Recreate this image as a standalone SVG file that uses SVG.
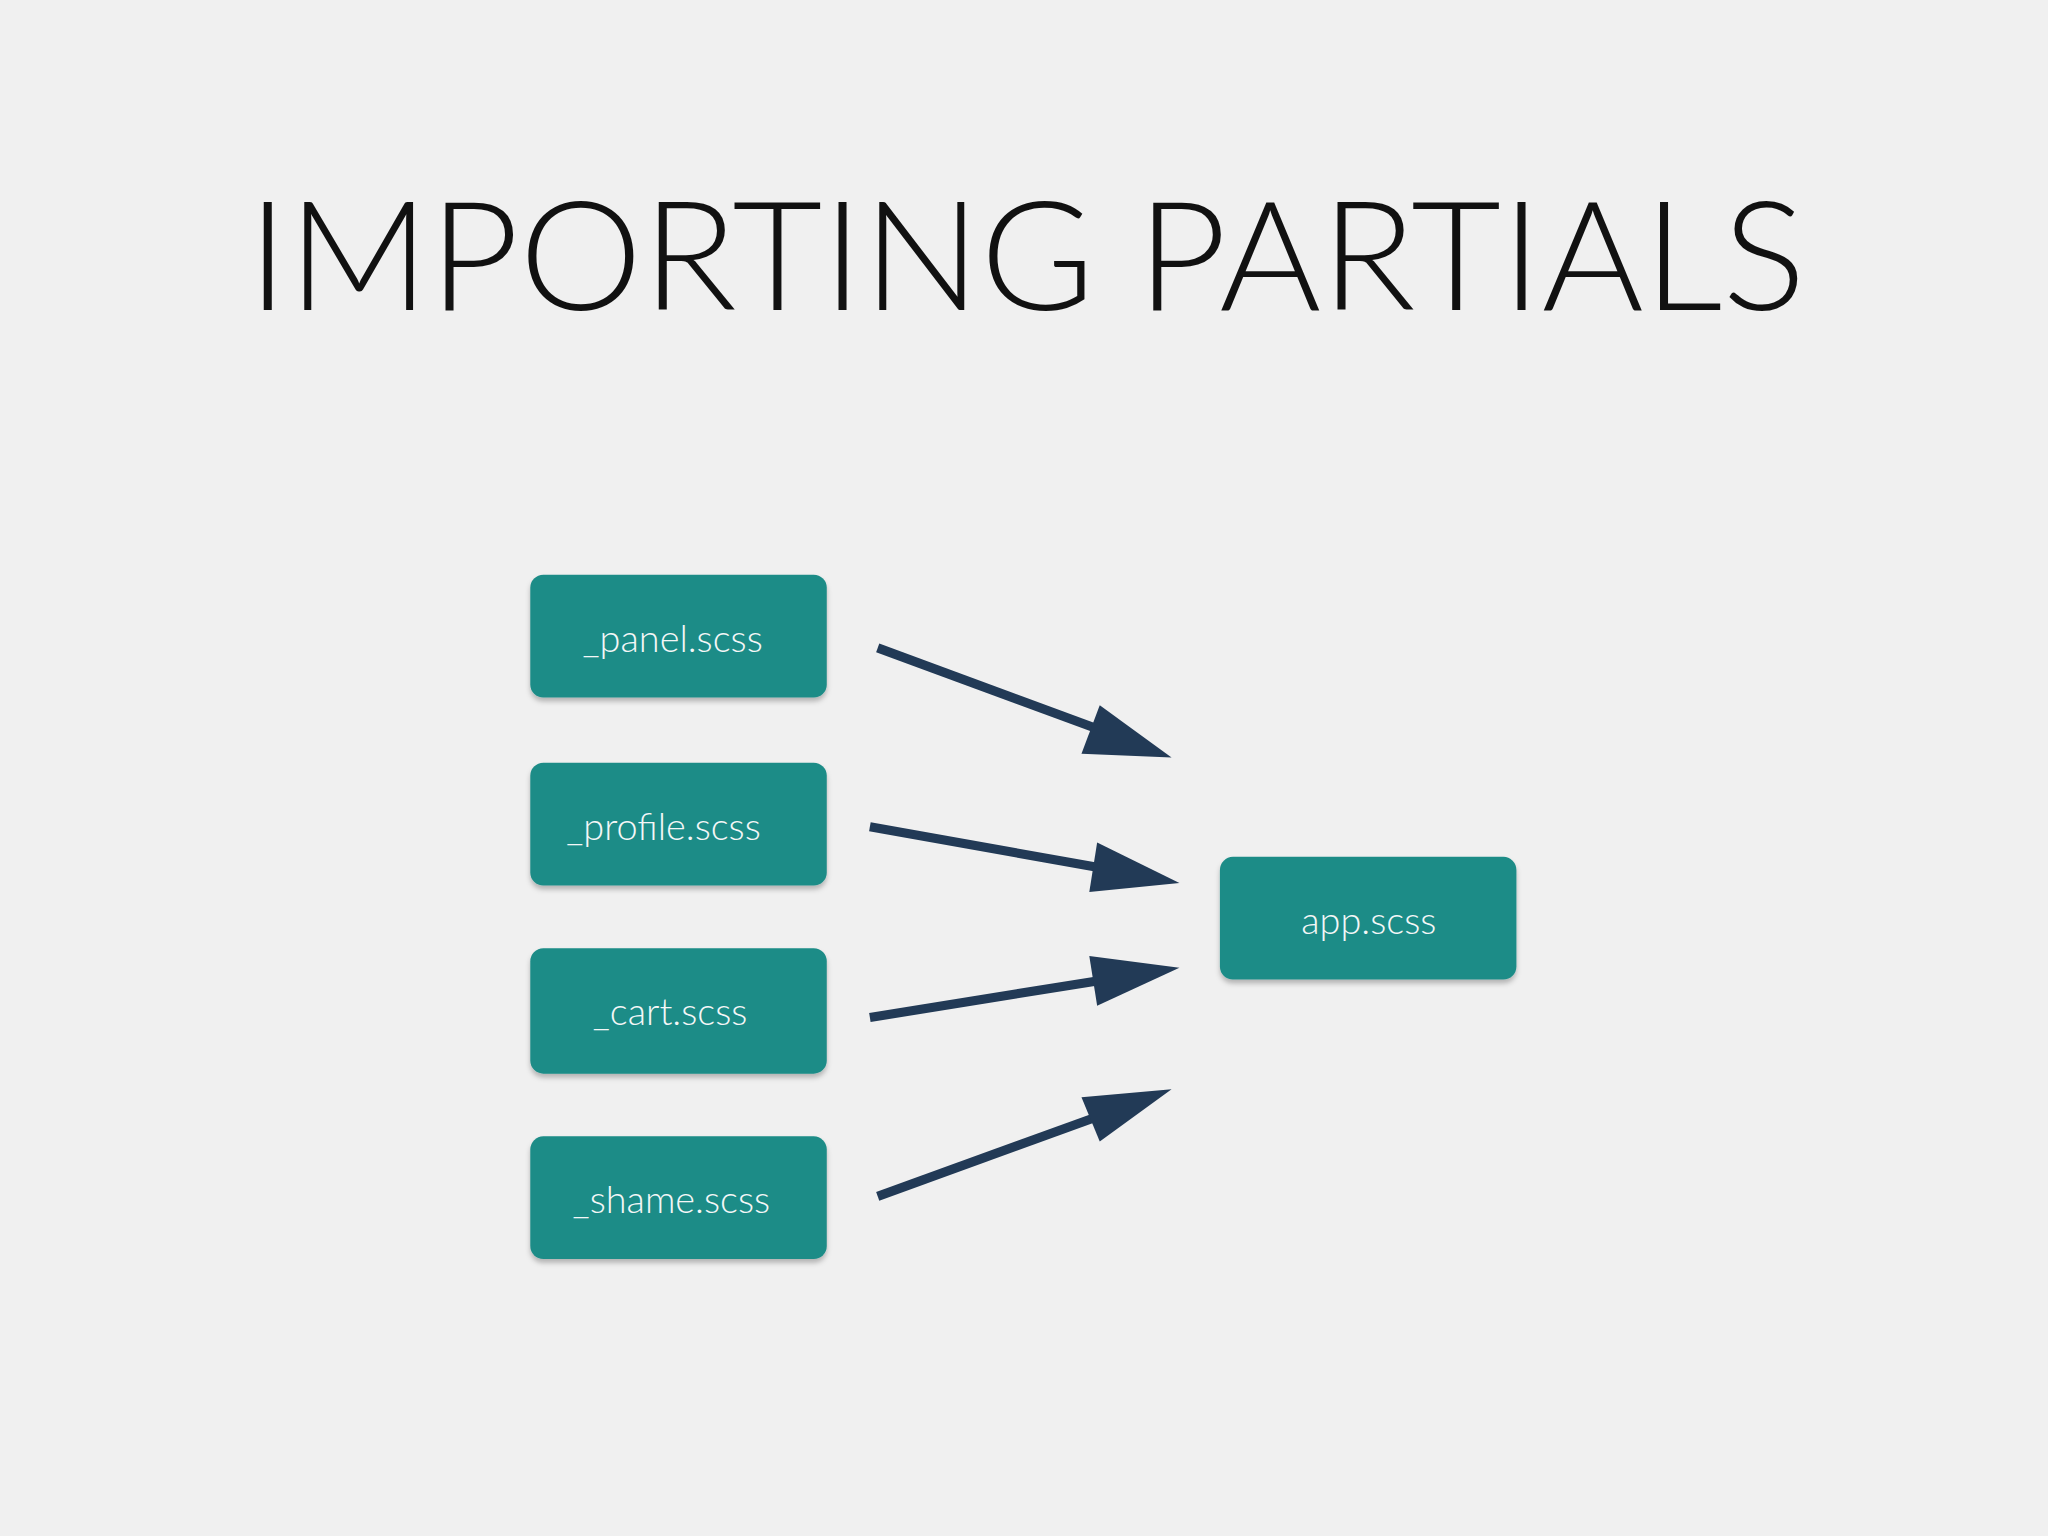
<svg xmlns="http://www.w3.org/2000/svg" width="2048" height="1536" viewBox="0 0 2048 1536">
<style>
.box{fill:#1e8c87;}
.lbl{fill:#f4f7f7;font-family:Lato,"Open Sans",sans-serif;font-weight:300;font-size:29px;text-anchor:middle;}
.ln{stroke:#223a56;stroke-width:7;fill:none;}
.hd{fill:#223a56;}
</style>
<defs>
<filter id="sh" x="-10%" y="-10%" width="120%" height="130%"><feDropShadow dx="0" dy="3" stdDeviation="2" flood-color="#000" flood-opacity="0.25"/></filter>
</defs>
<rect width="2048" height="1536" fill="#f0f0f0"/>
<g transform="scale(1.306122)">
<text x="786" y="237" font-family="Lato,'Open Sans',sans-serif" font-weight="300" font-size="116" text-anchor="middle" textLength="1193" lengthAdjust="spacingAndGlyphs" fill="#111">IMPORTING PARTIALS</text>
<g id="panel"><rect class="box" x="406" y="440" width="227" height="94" rx="10" filter="url(#sh)"/><text class="lbl" x="515" y="499">_panel.scss</text></g>
<g id="profile"><rect class="box" x="406" y="584" width="227" height="94" rx="10" filter="url(#sh)"/><text class="lbl" x="508" y="643">_profile.scss</text></g>
<g id="cart"><rect class="box" x="406" y="726" width="227" height="96" rx="10" filter="url(#sh)"/><text class="lbl" x="513" y="785">_cart.scss</text></g>
<g id="shame"><rect class="box" x="406" y="870" width="227" height="94" rx="10" filter="url(#sh)"/><text class="lbl" x="514" y="929">_shame.scss</text></g>
<g id="app"><rect class="box" x="934" y="656" width="227" height="94" rx="10" filter="url(#sh)"/><text class="lbl" x="1048" y="715">app.scss</text></g>
<g id="connectors">
<line class="ln" x1="672" y1="496" x2="840" y2="558"/><polygon class="hd" points="842,540 897,580 828,577"/>
<line class="ln" x1="666" y1="633" x2="840" y2="664"/><polygon class="hd" points="840,645 903,676 834,683"/>
<line class="ln" x1="666" y1="779" x2="840" y2="751"/><polygon class="hd" points="834,732 903,741 840,770"/>
<line class="ln" x1="672" y1="916" x2="840" y2="855"/><polygon class="hd" points="828,840 897,834 842,874"/>
</g>
</g>
</svg>
